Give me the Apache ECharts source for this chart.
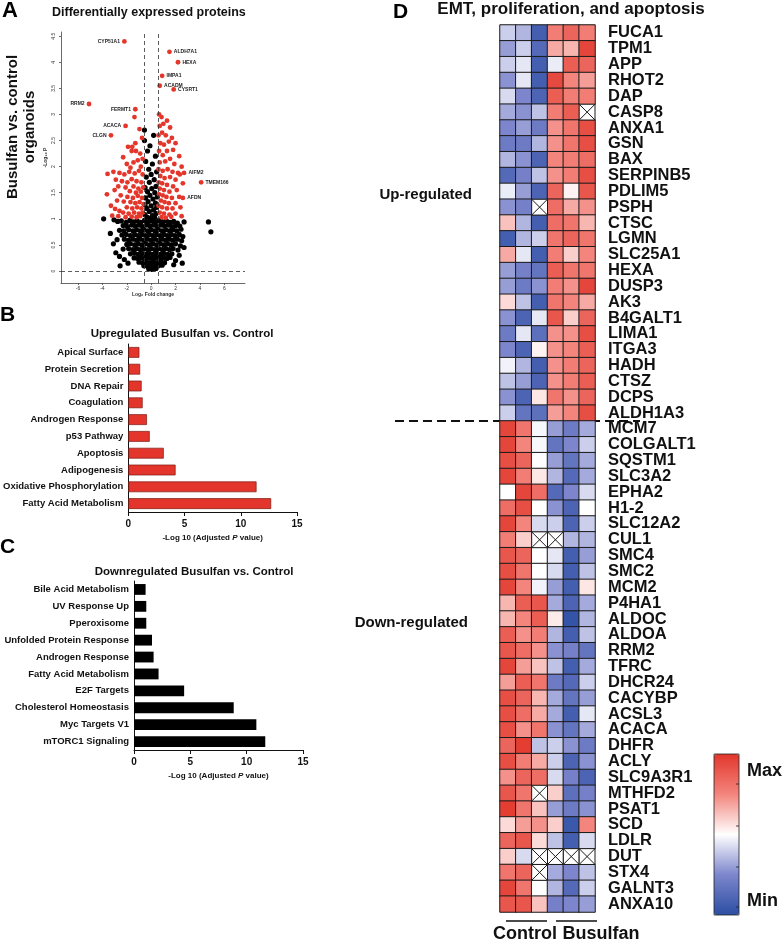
<!DOCTYPE html>
<html>
<head>
<meta charset="utf-8">
<script src="https://cdn.jsdelivr.net/npm/echarts@6.0.0/dist/echarts.min.js"></script>
<style>
  html, body { margin: 0; padding: 0; background: #fff; }
  #main { width: 784px; height: 941px; }
</style>
</head>
<body>
<div id="main"></div>
<script>
// ---- data ----
// volcano: [log2 fold change, -log10 p]
var volcanoBlack = [
  [-0.55,2.7],[-0.55,2.5],[-0.1,2.4],[0.2,2.6],[-0.3,2.3],[0.35,2.2],[-0.45,2.1],[0.1,2.05],[-0.2,1.95],[0.45,1.9],
  [0.0,1.85],[-0.4,1.8],[0.25,1.75],[-0.15,1.7],[0.4,1.62],[-0.5,1.6],[0.05,1.58],[-0.3,1.52],[0.3,1.5],[-0.1,1.45],
  [0.5,1.42],[-0.45,1.4],[0.15,1.38],[-0.25,1.33],[0.35,1.3],[-0.5,1.27],[0.0,1.25],[0.45,1.22],[-0.35,1.2],[0.2,1.17],
  [-0.15,1.14],[0.4,1.1],[-0.5,1.08],[0.1,1.06],[-0.3,1.03],[0.3,1.02],[-0.05,1.0],
  [-2.45,0.96],[-2.05,0.93],[-1.75,0.97],[-1.45,0.94],[-1.15,0.96],[-0.85,0.93],[-0.55,0.97],[-0.25,0.94],[0.05,0.96],[0.35,0.93],
  [0.65,0.97],[0.95,0.94],[1.25,0.96],[1.55,0.93],[1.85,0.95],[2.15,0.92],
  [-2.3,0.87],[-1.95,0.85],[-1.6,0.88],[-1.3,0.86],[-1.0,0.88],[-0.7,0.85],[-0.4,0.88],[-0.1,0.86],[0.2,0.88],[0.5,0.85],
  [0.8,0.88],[1.1,0.86],[1.4,0.88],[1.7,0.85],[2.0,0.87],[2.35,0.86],
  [-2.6,0.78],[-2.25,0.77],[-1.85,0.79],[-1.5,0.77],[-1.2,0.79],[-0.9,0.77],[-0.6,0.79],[-0.3,0.77],[0.0,0.79],[0.3,0.77],
  [0.6,0.79],[0.9,0.77],[1.2,0.79],[1.5,0.77],[1.8,0.79],[2.1,0.77],[2.45,0.8],
  [-2.4,0.69],[-2.05,0.7],[-1.7,0.68],[-1.35,0.7],[-1.05,0.68],[-0.75,0.7],[-0.45,0.68],[-0.15,0.7],[0.15,0.68],[0.45,0.7],
  [0.75,0.68],[1.05,0.7],[1.35,0.68],[1.65,0.7],[1.95,0.68],[2.3,0.7],[2.6,0.66],
  [-2.8,0.6],[-2.2,0.61],[-1.85,0.59],[-1.5,0.61],[-1.2,0.59],[-0.9,0.61],[-0.6,0.59],[-0.3,0.61],[0.0,0.59],[0.3,0.61],
  [0.6,0.59],[0.9,0.61],[1.2,0.59],[1.5,0.61],[1.8,0.59],[2.15,0.61],[2.5,0.58],
  [-2.0,0.51],[-1.7,0.52],[-1.35,0.5],[-1.05,0.52],[-0.75,0.5],[-0.45,0.52],[-0.15,0.5],[0.15,0.52],[0.45,0.5],[0.75,0.52],
  [1.05,0.5],[1.35,0.52],[1.65,0.5],[2.0,0.52],[2.4,0.48],
  [-2.3,0.42],[-1.85,0.43],[-1.5,0.41],[-1.2,0.43],[-0.9,0.41],[-0.6,0.43],[-0.3,0.41],[0.0,0.43],[0.3,0.41],[0.6,0.43],
  [0.9,0.41],[1.2,0.43],[1.5,0.41],[1.8,0.43],[2.2,0.4],
  [-1.7,0.33],[-1.35,0.34],[-1.05,0.32],[-0.75,0.34],[-0.45,0.32],[-0.15,0.34],[0.15,0.32],[0.45,0.34],[0.75,0.32],[1.05,0.34],
  [1.35,0.32],[1.7,0.33],
  [-1.4,0.25],[-1.1,0.24],[-0.8,0.26],[-0.5,0.24],[-0.2,0.26],[0.1,0.24],[0.4,0.26],[0.7,0.24],[1.0,0.26],[1.3,0.24],[1.55,0.26],
  [-1.0,0.17],[-0.7,0.16],[-0.4,0.18],[-0.1,0.16],[0.2,0.18],[0.5,0.16],[0.8,0.18],[1.1,0.16],
  [-0.6,0.1],[-0.3,0.09],[0.0,0.11],[0.3,0.09],[0.6,0.1],[0.9,0.11],
  [-0.2,0.04],[0.1,0.03],[0.4,0.05],
  [-2.9,0.35],[-2.6,0.28],[-2.2,0.22],[2.0,0.2],[2.3,0.3],[2.7,0.45],[-2.75,0.95],[-3.05,0.98],[-3.9,1.0],[-3.1,0.52],
  [2.7,0.94],[4.7,0.94],[4.9,0.75],[-3.35,0.72],[-2.55,0.1],[2.55,0.15],[-1.9,0.15],[1.85,0.12]
];
var volcanoRed = [
  [-1.37,2.95],[-0.96,2.72],[-1.3,2.45],[-1.55,2.38],[-0.75,2.55],[-1.9,2.38],[-1.6,2.3],[-1.25,2.3],[-0.9,2.25],[-2.3,2.18],
  [-1.1,2.12],[-0.7,2.15],[-1.45,2.08],[-2.0,2.05],[-0.85,2.0],[-1.7,1.98],
  [-3.58,1.86],[-3.1,1.9],[-2.6,1.88],[-2.2,1.85],[-1.8,1.9],[-1.35,1.87],[-1.0,1.92],[-0.7,1.85],[-2.9,1.75],[-2.4,1.72],
  [-1.95,1.7],[-1.6,1.76],[-1.2,1.72],[-0.8,1.7],[-2.7,1.62],[-2.1,1.6],[-1.45,1.62],[-1.05,1.58],[-0.65,1.6],[-3.0,1.55],
  [-1.75,1.53],[-1.25,1.5],[-0.85,1.52],
  [-3.63,1.47],[-2.5,1.45],[-1.95,1.42],[-1.5,1.4],[-1.1,1.44],[-0.75,1.4],[-2.8,1.35],[-2.25,1.33],[-1.7,1.32],[-1.3,1.3],
  [-0.95,1.32],[-0.62,1.28],[-3.3,1.25],[-2.96,1.19],[-2.0,1.22],[-1.55,1.2],[-1.15,1.22],[-0.8,1.2],[-2.6,1.15],[-2.3,1.12],
  [-1.85,1.1],[-1.4,1.12],[-1.0,1.1],[-0.68,1.12],[-3.2,1.06],[-2.7,1.05],[-1.6,1.04],[-1.2,1.03],[-0.9,1.05],[-2.1,1.03],
  [0.65,3.0],[0.85,2.95],[1.0,2.82],[0.7,2.78],[1.3,2.88],[1.55,2.75],[0.9,2.65],[1.2,2.6],[0.6,2.6],[1.7,2.55],
  [1.45,2.48],[0.75,2.45],[1.05,2.42],[2.0,2.45],[1.8,2.32],[1.3,2.3],[0.65,2.3],[0.95,2.22],[2.3,2.2],[1.55,2.15],
  [1.15,2.1],[0.7,2.08],[1.9,2.05],[2.5,2.0],
  [0.6,1.95],[0.95,1.92],[1.35,1.95],[1.75,1.9],[2.2,1.88],[0.75,1.82],[1.1,1.78],[1.55,1.8],[2.0,1.75],[2.35,1.85],
  [0.62,1.7],[0.9,1.68],[1.3,1.65],[1.8,1.62],[2.6,1.68],[0.7,1.58],[1.05,1.55],[1.5,1.52],[2.1,1.55],
  [0.65,1.47],[0.95,1.45],[1.25,1.42],[1.7,1.4],[2.3,1.42],[0.8,1.35],[1.1,1.32],[1.45,1.3],[2.0,1.3],[0.6,1.25],
  [0.9,1.22],[1.3,1.2],[1.75,1.2],[2.4,1.22],[0.7,1.12],[1.05,1.1],[1.5,1.08],[2.0,1.1],[0.85,1.03],[1.2,1.02],
  [1.65,1.04],[2.5,1.05]
];
var labeledGenes = ['CYP51A1','ALDH7A1','HEXA','IMPA1','ACADM','CYSRT1','RRM2','FERMT1','ACACA','CLGN','AIFM2','TMEM166','AFDN'];
var labeledFC    = [-2.2, 1.5, 2.2, 0.9, 0.7, 1.85, -5.1, -1.3, -2.1, -3.3, 2.7, 4.1, 2.6];
var labeledLogP  = [4.4, 4.2, 4.0, 3.74, 3.55, 3.48, 3.2, 3.1, 2.78, 2.6, 1.88, 1.7, 1.4];
var volcanoXTicks = [-6, -4, -2, 0, 2, 4, 6];
var volcanoYTicks = [0, 0.5, 1, 1.5, 2, 2.5, 3, 3.5, 4, 4.5];

// enrichment bars
var upTerms = ['Apical Surface','Protein Secretion','DNA Repair','Coagulation','Androgen Response',
  'p53 Pathway','Apoptosis','Adipogenesis','Oxidative Phosphorylation','Fatty Acid Metabolism'];
var upValues = [0.98, 1.05, 1.18, 1.27, 1.65, 1.9, 3.15, 4.2, 11.4, 12.7];
var downTerms = ['Bile Acid Metabolism','UV Response Up','Pperoxisome','Unfolded Protein Response','Androgen Response',
  'Fatty Acid Metabolism','E2F Targets','Cholesterol Homeostasis','Myc Targets V1','mTORC1 Signaling'];
var downValues = [1.03, 1.09, 1.09, 1.6, 1.74, 2.18, 4.45, 8.85, 10.86, 11.65];

// heatmap (relative expression, -1 = min, 1 = max; null = missing)
var heatCols = ['C1','C2','C3','B1','B2','B3'];
var heatGenes = ['FUCA1','TPM1','APP','RHOT2','DAP','CASP8','ANXA1','GSN','BAX','SERPINB5','PDLIM5','PSPH','CTSC',
  'LGMN','SLC25A1','HEXA','DUSP3','AK3','B4GALT1','LIMA1','ITGA3','HADH','CTSZ','DCPS','ALDH1A3',
  'MCM7','COLGALT1','SQSTM1','SLC3A2','EPHA2','H1-2','SLC12A2','CUL1','SMC4','SMC2','MCM2','P4HA1','ALDOC',
  'ALDOA','RRM2','TFRC','DHCR24','CACYBP','ACSL3','ACACA','DHFR','ACLY','SLC9A3R1','MTHFD2','PSAT1','SCD',
  'LDLR','DUT','STX4','GALNT3','ANXA10'];
var heatRows = [
  [-0.2,-0.3,-0.85,0.55,0.7,0.55],
  [-0.4,-0.2,-0.75,0.35,0.3,0.9],
  [-0.2,-0.1,-0.85,-0.08,0.75,0.7],
  [-0.45,-0.1,-0.85,0.88,0.5,0.4],
  [-0.15,-0.5,-0.8,0.75,0.55,0.55],
  [-0.35,-0.45,-0.25,0.55,0.75,null],
  [-0.5,-0.4,-0.6,0.45,0.6,0.85],
  [-0.6,-0.6,-0.3,0.45,0.6,0.85],
  [-0.3,-0.45,-0.8,0.5,0.55,0.65],
  [-0.75,-0.55,-0.25,0.45,0.55,0.85],
  [-0.08,-0.4,-0.8,0.7,0.05,0.8],
  [-0.45,-0.55,null,0.65,0.35,0.45],
  [0.25,-0.3,-0.85,0.65,0.6,0.3],
  [-0.85,-0.3,-0.2,0.6,0.7,0.6],
  [0.35,-0.1,-0.85,0.55,0.2,0.5],
  [-0.4,-0.55,-0.65,0.75,0.6,0.6],
  [-0.4,-0.6,-0.45,0.55,0.45,0.9],
  [0.15,-0.25,-0.85,0.6,0.5,0.35],
  [-0.45,-0.8,-0.1,0.8,0.2,0.7],
  [-0.6,-0.1,-0.7,0.45,0.45,0.85],
  [-0.5,-0.8,0.05,0.45,0.5,0.75],
  [-0.05,-0.3,-0.85,0.45,0.55,0.7],
  [-0.25,-0.4,-0.8,0.45,0.55,0.75],
  [-0.45,-0.8,0.1,0.6,0.45,0.7],
  [-0.2,-0.65,-0.7,0.4,0.5,0.85],
  [0.9,0.6,-0.03,-0.4,-0.6,-0.35],
  [0.9,0.5,-0.03,-0.65,-0.5,-0.2],
  [0.85,0.7,0.0,-0.4,-0.65,-0.35],
  [0.9,0.55,0.1,-0.3,-0.75,-0.35],
  [0.0,0.9,0.65,-0.75,-0.5,-0.15],
  [0.65,0.85,0.0,-0.45,-0.8,0.0],
  [0.9,0.5,-0.15,-0.2,-0.8,-0.2],
  [0.55,0.2,null,null,-0.3,-0.3],
  [0.8,0.7,0.0,-0.1,-0.85,-0.4],
  [0.85,0.6,0.0,-0.15,-0.85,-0.25],
  [0.9,0.5,-0.05,-0.4,-0.85,0.1],
  [0.3,0.75,0.8,-0.35,-0.8,-0.35],
  [0.3,0.5,0.75,0.08,-0.95,-0.3],
  [0.75,0.45,0.55,-0.3,-0.85,-0.25],
  [0.8,0.65,0.45,-0.45,-0.55,-0.65],
  [0.9,0.4,0.25,-0.25,-0.85,-0.35],
  [0.4,0.75,0.6,-0.6,-0.75,-0.2],
  [0.85,0.7,0.3,-0.35,-0.65,-0.4],
  [0.85,0.65,0.35,-0.35,-0.85,-0.1],
  [0.85,0.45,0.6,-0.45,-0.65,-0.35],
  [0.7,0.95,-0.25,-0.2,-0.45,-0.6],
  [0.85,0.55,0.35,-0.2,-0.8,-0.45],
  [0.45,0.7,0.65,-0.15,-0.55,-0.8],
  [0.8,0.6,null,0.2,-0.7,-0.55],
  [0.95,0.6,0.25,-0.4,-0.6,-0.45],
  [0.15,0.4,0.45,0.2,-0.9,0.5],
  [0.7,0.8,0.15,-0.25,-0.85,-0.15],
  [0.2,-0.15,null,null,null,null],
  [0.6,0.7,null,-0.35,-0.5,-0.25],
  [0.9,0.6,0.0,-0.3,-0.75,-0.2],
  [0.8,0.8,0.25,-0.55,-0.5,-0.4]
];

// ---- build series data ----
var heatData = [];
var missingCells = [];
heatRows.forEach(function (row, r) {
  row.forEach(function (v, c) {
    if (v === null) missingCells.push([c, r]);
    else heatData.push([c, r, v]);
  });
});

var labeledLeft = ['CYP51A1','RRM2','FERMT1','ACACA','CLGN'];
var labeledData = labeledGenes.map(function (g, i) {
  return {
    name: g,
    value: [labeledFC[i], labeledLogP[i]],
    label: { position: labeledLeft.indexOf(g) >= 0 ? 'left' : 'right' }
  };
});

var FONT = '"Liberation Sans", Arial, Helvetica, sans-serif';
var chart = echarts.init(document.getElementById('main'));

function barCatAxis(idx, terms) {
  return {
    type: 'category', gridIndex: idx, data: terms, inverse: true,
    axisLine: { lineStyle: { color: '#111', width: 1 } },
    axisTick: { alignWithLabel: true, length: 4, lineStyle: { color: '#111' } },
    axisLabel: { fontSize: 9.5, fontWeight: 'bold', color: '#111', margin: 5, fontFamily: FONT }
  };
}
function barValAxis(idx) {
  return {
    type: 'value', gridIndex: idx, min: 0, max: 15, interval: 5,
    splitLine: { show: false },
    axisLine: { show: true, lineStyle: { color: '#111', width: 1 } },
    axisTick: { show: true, length: 4, lineStyle: { color: '#111' } },
    axisLabel: { fontSize: 10, fontWeight: 'bold', color: '#111', margin: 7, fontFamily: FONT },
    name: '-Log 10 (Adjusted {i|P} value)',
    nameLocation: 'middle', nameGap: 22,
    nameTextStyle: {
      fontSize: 8, fontWeight: 'bold', color: '#111', fontFamily: FONT,
      rich: { i: { fontSize: 8, fontWeight: 'bold', fontStyle: 'italic', color: '#111', fontFamily: FONT } }
    }
  };
}

var option = {
  animation: false,
  backgroundColor: '#fff',
  textStyle: { fontFamily: FONT },
  grid: [
    { left: 61, top: 32, width: 184, height: 251 },
    { left: 128, top: 344, width: 169, height: 168 },
    { left: 134, top: 581, width: 169, height: 169 },
    { left: 500, top: 25, width: 95, height: 887 }
  ],
  xAxis: [
    {
      type: 'value', gridIndex: 0, min: -7.4, max: 7.7,
      splitLine: { show: false },
      axisLine: { onZero: false, lineStyle: { color: '#444', width: 0.8 } },
      axisTick: { show: true, length: 2, customValues: volcanoXTicks, lineStyle: { color: '#444', width: 0.8 } },
      axisLabel: { fontSize: 5, color: '#333', margin: 3, customValues: volcanoXTicks },
      name: 'Log\u2082 Fold change', nameLocation: 'middle', nameGap: 9,
      nameTextStyle: { fontSize: 5, fontWeight: 'bold', color: '#333' }
    },
    barValAxis(1),
    barValAxis(2),
    { type: 'category', gridIndex: 3, data: heatCols, show: false }
  ],
  yAxis: [
    {
      type: 'value', gridIndex: 0, min: -0.23, max: 4.58,
      splitLine: { show: false },
      axisLine: { onZero: false, lineStyle: { color: '#444', width: 0.8 } },
      axisTick: { show: true, length: 2, customValues: volcanoYTicks, lineStyle: { color: '#444', width: 0.8 } },
      axisLabel: { fontSize: 5, color: '#333', margin: 5, rotate: 90, customValues: volcanoYTicks },
      name: '-Log\u2081\u2080 P', nameLocation: 'middle', nameGap: 13,
      nameTextStyle: { fontSize: 5, fontWeight: 'bold', color: '#333' }
    },
    barCatAxis(1, upTerms),
    barCatAxis(2, downTerms),
    {
      type: 'category', gridIndex: 3, data: heatGenes, inverse: true, position: 'right',
      axisLine: { show: false }, axisTick: { show: false },
      axisLabel: { fontSize: 16.5, fontWeight: 'bold', color: '#111', margin: 13, fontFamily: FONT, interval: 0 }
    }
  ],
  visualMap: {
    type: 'continuous', seriesIndex: 5, min: -1, max: 1,
    show: true, calculable: false, hoverLink: false,
    orient: 'vertical', left: 714, top: 754, itemWidth: 25, itemHeight: 161, padding: 0,
    inRange: { color: ['#2b4ea3', '#7d86cc', '#ffffff', '#f3857d', '#e2362b'] }
  },
  series: [
    {
      type: 'scatter', xAxisIndex: 0, yAxisIndex: 0, data: volcanoBlack,
      symbolSize: 5.2, itemStyle: { color: '#000', opacity: 1 }, silent: true,
      markLine: {
        silent: true, symbol: 'none', label: { show: false },
        lineStyle: { color: '#333', width: 0.8, type: [4, 3] },
        data: [{ xAxis: -0.55 }, { xAxis: 0.55 }, { yAxis: 0 }]
      }
    },
    {
      type: 'scatter', xAxisIndex: 0, yAxisIndex: 0, data: volcanoRed,
      symbolSize: 4.8, itemStyle: { color: '#e4362b', opacity: 1 }, silent: true
    },
    {
      type: 'scatter', xAxisIndex: 0, yAxisIndex: 0, data: labeledData,
      symbolSize: 4.8, itemStyle: { color: '#e4362b', opacity: 1 }, silent: true,
      label: {
        show: true, formatter: '{b}', fontSize: 5, fontWeight: 'bold', color: '#222', distance: 2
      }
    },
    {
      type: 'bar', xAxisIndex: 1, yAxisIndex: 1, data: upValues, barWidth: '64%',
      itemStyle: { color: '#e3352b', borderColor: '#7a1a12', borderWidth: 0.7 }, silent: true
    },
    {
      type: 'bar', xAxisIndex: 2, yAxisIndex: 2, data: downValues, barWidth: '64%',
      itemStyle: { color: '#000' }, silent: true
    },
    {
      type: 'heatmap', xAxisIndex: 3, yAxisIndex: 3, data: heatData,
      itemStyle: { borderColor: '#1a1a1a', borderWidth: 1 },
      emphasis: { disabled: true }, silent: true
    },
    {
      type: 'custom', xAxisIndex: 3, yAxisIndex: 3, data: missingCells, silent: true,
      renderItem: function (params, api) {
        var c = api.coord([api.value(0), api.value(1)]);
        var s = api.size([1, 1]);
        var x0 = c[0] - s[0] / 2, y0 = c[1] - s[1] / 2;
        var st = { stroke: '#1a1a1a', lineWidth: 1 };
        return {
          type: 'group', children: [
            { type: 'rect', shape: { x: x0, y: y0, width: s[0], height: s[1] }, style: { fill: '#fff', stroke: '#1a1a1a', lineWidth: 1 } },
            { type: 'line', shape: { x1: x0, y1: y0, x2: x0 + s[0], y2: y0 + s[1] }, style: st },
            { type: 'line', shape: { x1: x0 + s[0], y1: y0, x2: x0, y2: y0 + s[1] }, style: st }
          ]
        };
      }
    }
  ],
  graphic: [
    // panel letters
    { type: 'text', x: 2, y: 11, style: { text: 'A', font: 'bold 22px ' + FONT, fill: '#000', textVerticalAlign: 'middle' } },
    { type: 'text', x: 0, y: 315, style: { text: 'B', font: 'bold 21px ' + FONT, fill: '#000', textVerticalAlign: 'middle' } },
    { type: 'text', x: 0, y: 547, style: { text: 'C', font: 'bold 21px ' + FONT, fill: '#000', textVerticalAlign: 'middle' } },
    { type: 'text', x: 393, y: 12, style: { text: 'D', font: 'bold 21px ' + FONT, fill: '#000', textVerticalAlign: 'middle' } },
    // titles
    { type: 'text', x: 52, y: 13, style: { text: 'Differentially expressed proteins', font: 'bold 12.5px ' + FONT, fill: '#111', textVerticalAlign: 'middle' } },
    { type: 'text', x: 182, y: 334, style: { text: 'Upregulated Busulfan vs. Control', font: 'bold 11.5px ' + FONT, fill: '#111', textAlign: 'center', textVerticalAlign: 'middle' } },
    { type: 'text', x: 194, y: 572, style: { text: 'Downregulated Busulfan vs. Control', font: 'bold 11.5px ' + FONT, fill: '#111', textAlign: 'center', textVerticalAlign: 'middle' } },
    { type: 'text', x: 571, y: 9, style: { text: 'EMT, proliferation, and apoptosis', font: 'bold 17px ' + FONT, fill: '#111', textAlign: 'center', textVerticalAlign: 'middle' } },
    // volcano side label
    { type: 'text', x: 21, y: 127, rotation: Math.PI / 2,
      style: { text: 'Busulfan vs. control\norganoids', font: 'bold 15px ' + FONT, fill: '#111', textAlign: 'center', textVerticalAlign: 'middle', lineHeight: 17 } },
    // heatmap group labels
    { type: 'text', x: 472, y: 195, style: { text: 'Up-regulated', font: 'bold 15px ' + FONT, fill: '#111', textAlign: 'right', textVerticalAlign: 'middle' } },
    { type: 'text', x: 468, y: 623, style: { text: 'Down-regulated', font: 'bold 15px ' + FONT, fill: '#111', textAlign: 'right', textVerticalAlign: 'middle' } },
    { type: 'line', shape: { x1: 395, y1: 421, x2: 640, y2: 421 }, style: { stroke: '#111', lineWidth: 2, lineDash: [9, 5] } },
    // column groups
    { type: 'line', shape: { x1: 506, y1: 921, x2: 547, y2: 921 }, style: { stroke: '#111', lineWidth: 1.5 } },
    { type: 'line', shape: { x1: 556, y1: 921, x2: 597, y2: 921 }, style: { stroke: '#111', lineWidth: 1.5 } },
    { type: 'text', x: 525, y: 934, style: { text: 'Control', font: 'bold 18px ' + FONT, fill: '#111', textAlign: 'center', textVerticalAlign: 'middle' } },
    { type: 'text', x: 601, y: 934, style: { text: 'Busulfan', font: 'bold 18px ' + FONT, fill: '#111', textAlign: 'center', textVerticalAlign: 'middle' } },
    // colour bar frame and labels
    { type: 'rect', shape: { x: 714, y: 754, width: 25, height: 161 }, style: { fill: 'none', stroke: '#222', lineWidth: 0.8 }, z: 10 },
    { type: 'line', shape: { x1: 736, y1: 784, x2: 739, y2: 784 }, style: { stroke: '#222', lineWidth: 0.8 }, z: 10 },
    { type: 'line', shape: { x1: 736, y1: 826, x2: 739, y2: 826 }, style: { stroke: '#222', lineWidth: 0.8 }, z: 10 },
    { type: 'line', shape: { x1: 736, y1: 867, x2: 739, y2: 867 }, style: { stroke: '#222', lineWidth: 0.8 }, z: 10 },
    { type: 'line', shape: { x1: 736, y1: 907, x2: 739, y2: 907 }, style: { stroke: '#222', lineWidth: 0.8 }, z: 10 },
    { type: 'text', x: 747, y: 771, style: { text: 'Max', font: 'bold 18px ' + FONT, fill: '#111', textVerticalAlign: 'middle' } },
    { type: 'text', x: 747, y: 901, style: { text: 'Min', font: 'bold 18px ' + FONT, fill: '#111', textVerticalAlign: 'middle' } }
  ]
};

chart.setOption(option);
</script>
</body>
</html>
